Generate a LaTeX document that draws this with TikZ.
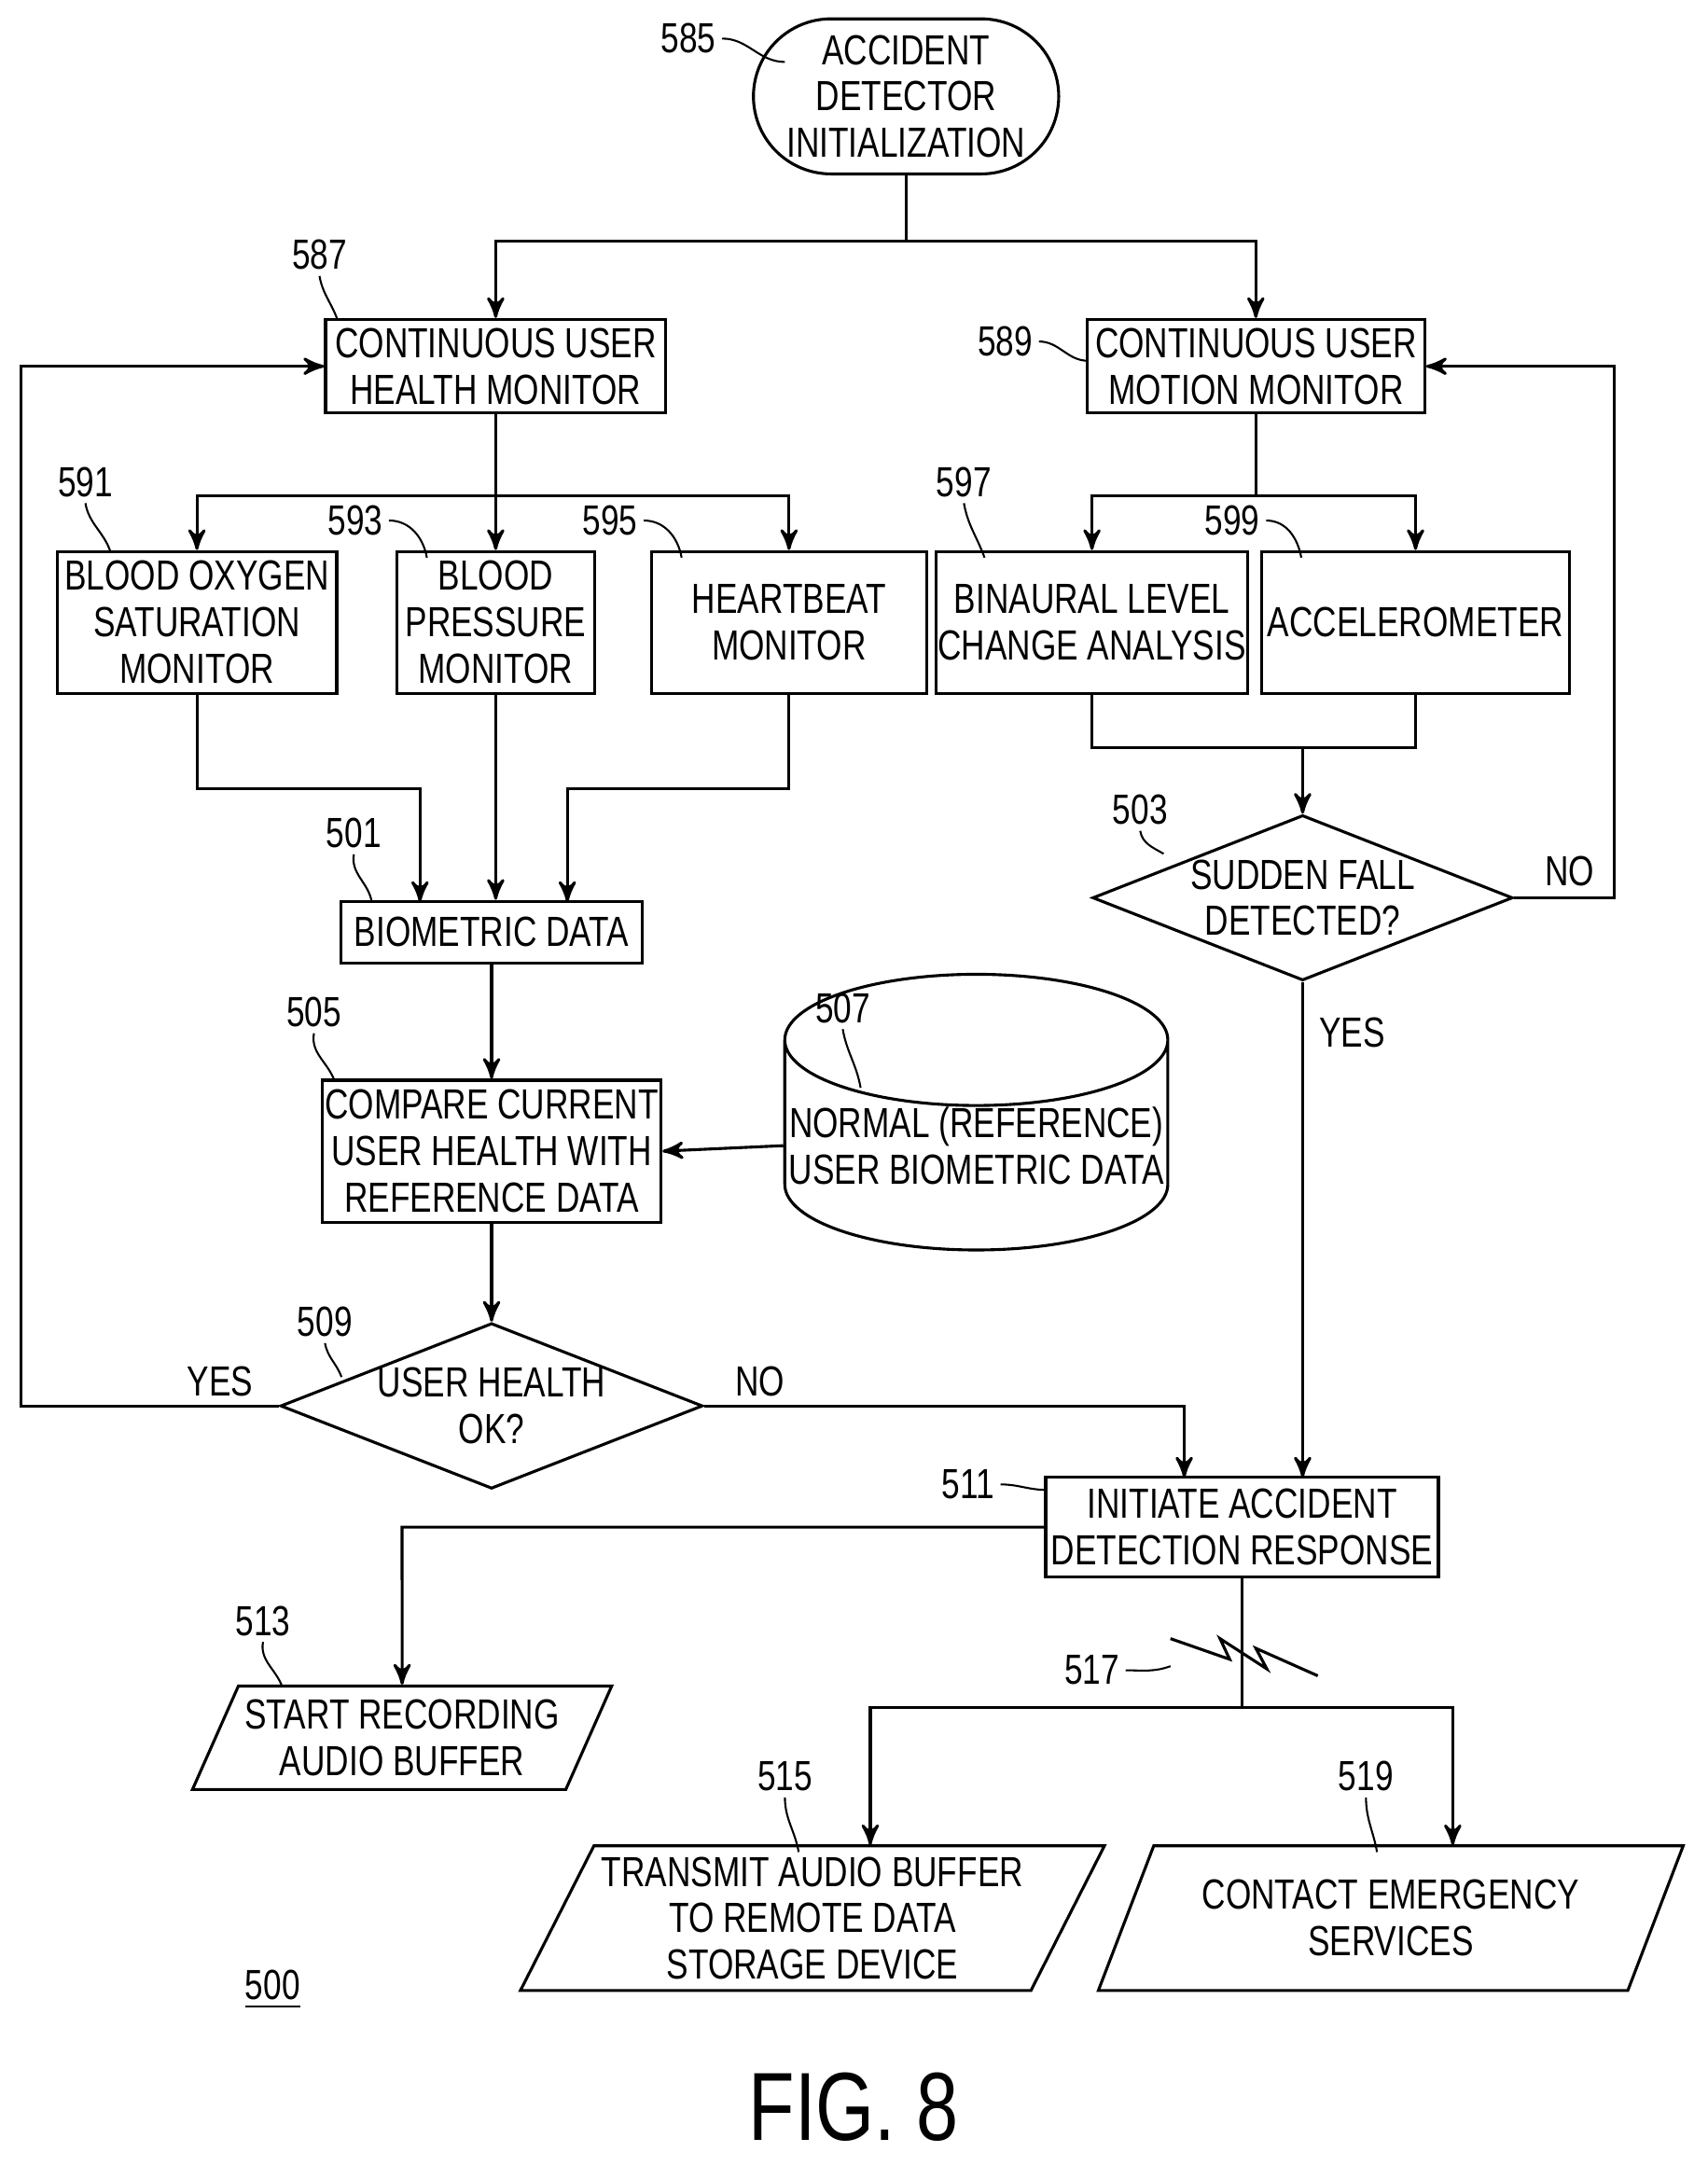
\documentclass[tikz,border=0pt]{standalone}
\usepackage{fontspec}
\setmainfont[FakeStretch=0.78]{Liberation Sans}
\usetikzlibrary{arrows,shapes.geometric,shapes.misc,shapes.symbols}

\begin{document}
\begin{tikzpicture}[x=0.01cm,y=-0.01cm,->,>=stealth',semithick,
  font=\fontsize{8.7}{9.6}\selectfont]

  \tikzstyle{box}=[draw,align=center,inner sep=0pt]
  \tikzstyle{dec}=[draw,diamond,aspect=2.55,align=center,inner sep=0pt,minimum height=1.2cm]
  \tikzstyle{io}=[draw,trapezium,trapezium left angle=60,trapezium right angle=120,
                   trapezium stretches=true,align=center,inner sep=0pt]
  \tikzstyle{ref}=[inner sep=1pt]
  \tikzstyle{lead}=[-,thin]

  \useasboundingbox (0,0) rectangle (1240,1573);

  \node[draw,rounded rectangle,align=center,minimum width=2.45cm,minimum height=1.1cm]
        (init) at (658,70) {ACCIDENT\\DETECTOR\\INITIALIZATION};

  \node[box,minimum width=2.47cm,minimum height=0.68cm] (health) at (360,266) {CONTINUOUS USER\\HEALTH MONITOR};
  \node[box,minimum width=2.45cm,minimum height=0.68cm] (motion) at (912,266) {CONTINUOUS USER\\MOTION MONITOR};

  \node[box,minimum width=2.03cm,minimum height=1.03cm] (oxy)   at (143,452) {BLOOD OXYGEN\\SATURATION\\MONITOR};
  \node[box,minimum width=1.44cm,minimum height=1.03cm] (press) at (360,452) {BLOOD\\PRESSURE\\MONITOR};
  \node[box,minimum width=2.00cm,minimum height=1.03cm] (heart) at (573,452) {HEARTBEAT\\MONITOR};
  \node[box,minimum width=2.26cm,minimum height=1.03cm] (binau) at (793,452) {BINAURAL LEVEL\\CHANGE ANALYSIS};
  \node[box,minimum width=2.23cm,minimum height=1.03cm] (accel) at (1028,452) {ACCELEROMETER};

  \node[box,minimum width=2.19cm,minimum height=0.45cm] (bio) at (357,677) {BIOMETRIC DATA};
  \node[dec,minimum width=3.05cm] (fall) at (946,652) {SUDDEN FALL\\DETECTED?};

  \node[box,minimum width=2.46cm,minimum height=1.03cm] (comp) at (357,836) {COMPARE CURRENT\\USER HEALTH WITH\\REFERENCE DATA};
  \node[draw,cylinder,shape border rotate=90,aspect=0.35,align=center,inner sep=0pt,
        minimum width=2.78cm,minimum height=0.97cm] (norm) at (709,832) {NORMAL (REFERENCE)\\USER BIOMETRIC DATA};

  \node[dec,minimum width=3.05cm] (ok) at (357,1021) {USER HEALTH\\OK?};

  \node[box,minimum width=2.85cm,minimum height=0.72cm] (resp) at (902,1109) {INITIATE ACCIDENT\\DETECTION RESPONSE};

  \node[io,minimum width=3.05cm,minimum height=0.75cm] (rec)  at (292,1262) {START RECORDING\\AUDIO BUFFER};
  \node[io,minimum width=4.24cm,minimum height=1.05cm] (send) at (590,1393) {TRANSMIT AUDIO BUFFER\\TO REMOTE DATA\\STORAGE DEVICE};
  \node[io,minimum width=4.25cm,minimum height=1.05cm] (call) at (1010,1393) {CONTACT EMERGENCY\\SERVICES};

  % connectors
  \draw[-] (init.south) -- (658,175);
  \draw (658,175) -| (health.north);
  \draw (658,175) -| (motion.north);

  \draw[-] (health.south) -- (360,360);
  \draw (360,360) -| (oxy.north);
  \draw (360,360) -- (press.north);
  \draw (360,360) -| (heart.north);

  \draw[-] (motion.south) -- (912,360);
  \draw (912,360) -| (binau.north);
  \draw (912,360) -| (accel.north);

  \draw (oxy.south) |- (305,573) -- (305,655);
  \draw (press.south) -- (bio.north -| press.south);
  \draw (heart.south) |- (412,573) -- (412,655);

  \draw[-] (binau.south) |- (946,543) -| (accel.south);
  \draw (946,543) -- (fall.north);

  \draw (fall.east) -- (1172,652) |- (motion.east);
  \draw (fall.south) -- (946,1073);

  \draw (bio.south) -- (comp.north);
  \draw (norm.west) -- (comp.east);
  \draw (comp.south) -- (ok.north);

  \draw (ok.west) -- (15,1021) |- (health.west);
  \draw (ok.east) -- (860,1021) -- (860,1073);

  \draw (resp.west) -- (292,1109) -- (rec.north);
  \draw[-] (resp.south) -- (902,1240);
  \draw (902,1240) -| (632,1340);
  \draw (902,1240) -| (1055,1340);
  \draw[-] (850,1190) -- (893,1205) -- (886,1190) -- (920,1212) -- (912,1197) -- (957,1217);

  % branch texts
  \node at (1140,633) {NO};
  \node at (982,750) {YES};
  \node at (160,1003) {YES};
  \node at (552,1003) {NO};

  % reference numerals
  \node[ref] (n585) at (500,28)  {585}; \draw[lead] (n585.east) to[out=0,in=180] (570,45);
  \node[ref] (n587) at (232,185) {587}; \draw[lead] (n587.south) to[out=-80,in=110] (245,232);
  \node[ref] (n589) at (730,248) {589}; \draw[lead] (n589.east) to[out=0,in=180] (790,262);
  \node[ref] (n591) at (62,350)  {591}; \draw[lead] (n591.south) to[out=-80,in=110] (80,400);
  \node[ref] (n593) at (258,378) {593}; \draw[lead] (n593.east) to[out=0,in=100] (310,405);
  \node[ref] (n595) at (443,378) {595}; \draw[lead] (n595.east) to[out=0,in=100] (495,405);
  \node[ref] (n597) at (700,350) {597}; \draw[lead] (n597.south) to[out=-80,in=110] (715,405);
  \node[ref] (n599) at (895,378) {599}; \draw[lead] (n599.east) to[out=0,in=100] (945,405);
  \node[ref] (n501) at (257,605) {501}; \draw[lead] (n501.south) to[out=-100,in=100] (270,655);
  \node[ref] (n503) at (828,588) {503}; \draw[lead] (n503.south) to[out=-80,in=150] (845,620);
  \node[ref] (n505) at (228,735) {505}; \draw[lead] (n505.south) to[out=-100,in=110] (243,785);
  \node[ref] (n507) at (612,732) {507}; \draw[lead] (n507.south) to[out=-80,in=100] (625,790);
  \node[ref] (n509) at (236,960) {509}; \draw[lead] (n509.south) to[out=-80,in=110] (248,1000);
  \node[ref] (n511) at (703,1078){511}; \draw[lead] (n511.east) to[out=0,in=180] (760,1082);
  \node[ref] (n513) at (191,1177){513}; \draw[lead] (n513.south) to[out=-100,in=110] (205,1225);
  \node[ref] (n515) at (570,1290){515}; \draw[lead] (n515.south) to[out=-90,in=100] (580,1345);
  \node[ref] (n517) at (793,1213){517}; \draw[lead] (n517.east) to[out=0,in=200] (850,1210);
  \node[ref] (n519) at (992,1290){519}; \draw[lead] (n519.south) to[out=-90,in=100] (1000,1345);

  \node (fignum) at (198,1445) {\underline{500}};
  \node[font=\fontsize{20}{22}\selectfont] (fig) at (620,1530) {FIG. 8};
\end{tikzpicture}
\end{document}
